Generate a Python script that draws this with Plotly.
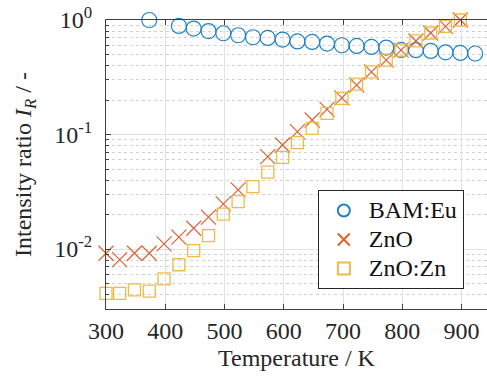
import plotly.graph_objects as go

# ---- data ----
bam_T = [373, 423, 448, 473, 498, 523, 548, 573, 598, 623, 648, 673, 698,
         723, 748, 773, 798, 823, 848, 873, 898, 923]
bam_I = [1.0, 0.887, 0.842, 0.80, 0.766, 0.736, 0.707, 0.697, 0.675, 0.650,
         0.643, 0.623, 0.602, 0.594, 0.582, 0.575, 0.548, 0.545, 0.537, 0.522,
         0.516, 0.510]

zno_T = [300, 323, 348, 373, 398, 423, 448, 473, 498, 523,
         573, 598, 623, 648, 673, 698, 723, 748, 773, 798, 823, 848, 873, 898]
zno_I = [0.0092, 0.0081, 0.0092, 0.0092, 0.0111, 0.0127, 0.0152, 0.0190,
         0.0248, 0.0329, 0.0641, 0.081, 0.106, 0.134, 0.166, 0.209, 0.270,
         0.352, 0.446, 0.545, 0.656, 0.770, 0.881, 1.0]

znozn_T = [300, 323, 348, 373, 398, 423, 448, 473, 498, 523, 548, 573, 598,
           623, 648, 673, 698, 723, 748, 773, 798, 823, 848, 873, 898]
znozn_I = [0.0041, 0.0041, 0.0044, 0.0043, 0.0055, 0.0073, 0.0097, 0.0131,
           0.0202, 0.026, 0.0351, 0.0469, 0.0633, 0.0849, 0.113, 0.153, 0.207,
           0.275, 0.352, 0.446, 0.545, 0.656, 0.770, 0.881, 1.0]

series_names = ["BAM:Eu", "ZnO", "ZnO:Zn"]
y_tickvals = [0.01, 0.1, 1]
y_ticktext = ["10<sup>-2</sup>", "10<sup>-1</sup>", "10<sup>0</sup>"]
x_tickvals = [300, 400, 500, 600, 700, 800, 900]
y_minor = [m * d for d in (0.001, 0.01, 0.1) for m in range(2, 10)]

FONT = "Liberation Serif"
AXC = "#404040"
GRID = "#e2e2e2"
MINOR = "#d2d2d2"
TXT = "#262626"


def leg_name(s):
    return '<span style="font-size:24px">' + s + "</span>"


fig = go.Figure()
fig.add_trace(go.Scatter(x=bam_T, y=bam_I, mode="markers", name=leg_name(series_names[0]),
                         cliponaxis=False,
                         marker=dict(symbol="circle-open", size=15,
                                     color="#1f82c9", line=dict(width=1.2))))
fig.add_trace(go.Scatter(x=zno_T, y=zno_I, mode="markers", name=leg_name(series_names[1]),
                         cliponaxis=False,
                         marker=dict(symbol="x-thin-open", size=15,
                                     color="#dd6234", line=dict(width=1.2, color="#dd6234"))))
fig.add_trace(go.Scatter(x=znozn_T, y=znozn_I, mode="markers", name=leg_name(series_names[2]),
                         cliponaxis=False,
                         marker=dict(symbol="square-open", size=12,
                                     color="#efbb45", line=dict(width=1.3))))

fig.update_layout(
    template="none",
    width=487, height=379,
    margin=dict(l=106, r=0, t=20, b=70),
    paper_bgcolor="white", plot_bgcolor="white",
    font=dict(family=FONT, size=24, color=TXT),
    showlegend=True,
    legend=dict(x=0.556, y=0.412, xanchor="left", yanchor="top",
                bgcolor="white", bordercolor="#262626", borderwidth=1,
                font=dict(family=FONT, size=20, color="#111111"),
                tracegroupgap=0, itemsizing="constant", itemwidth=40),
    xaxis=dict(range=[300, 943], tickmode="array", tickvals=x_tickvals,
               tickfont=dict(family=FONT, size=24, color=TXT),
               showline=True, linecolor=AXC, linewidth=1, mirror="ticks",
               ticks="inside", ticklen=5, tickcolor=AXC,
               showgrid=True, gridcolor=GRID, gridwidth=1, zeroline=False,
               ticklabelstandoff=0,
               title=dict(text="Temperature / K", standoff=6,
                          font=dict(family=FONT, size=24, color=TXT))),
    yaxis=dict(type="log", range=[-2.523, 0.0], tickmode="array",
               tickvals=y_tickvals, ticktext=y_ticktext,
               tickfont=dict(family=FONT, size=24, color=TXT),
               showline=True, linecolor=AXC, linewidth=1, mirror=False,
               ticks="inside", ticklen=5, tickcolor=AXC,
               showgrid=True, gridcolor=GRID, gridwidth=1, zeroline=False,
               ticklabelstandoff=8,
               minor=dict(tickmode="array", tickvals=y_minor, showgrid=True,
                          gridcolor=MINOR, griddash="dot", gridwidth=1,
                          ticks="inside", ticklen=3, tickcolor=AXC),
               title=dict(text="Intensity ratio <i>I</i><sub><i>R</i></sub> / -",
                          standoff=15,
                          font=dict(family=FONT, size=24, color=TXT))),
)

fig.write_html("out.html")
